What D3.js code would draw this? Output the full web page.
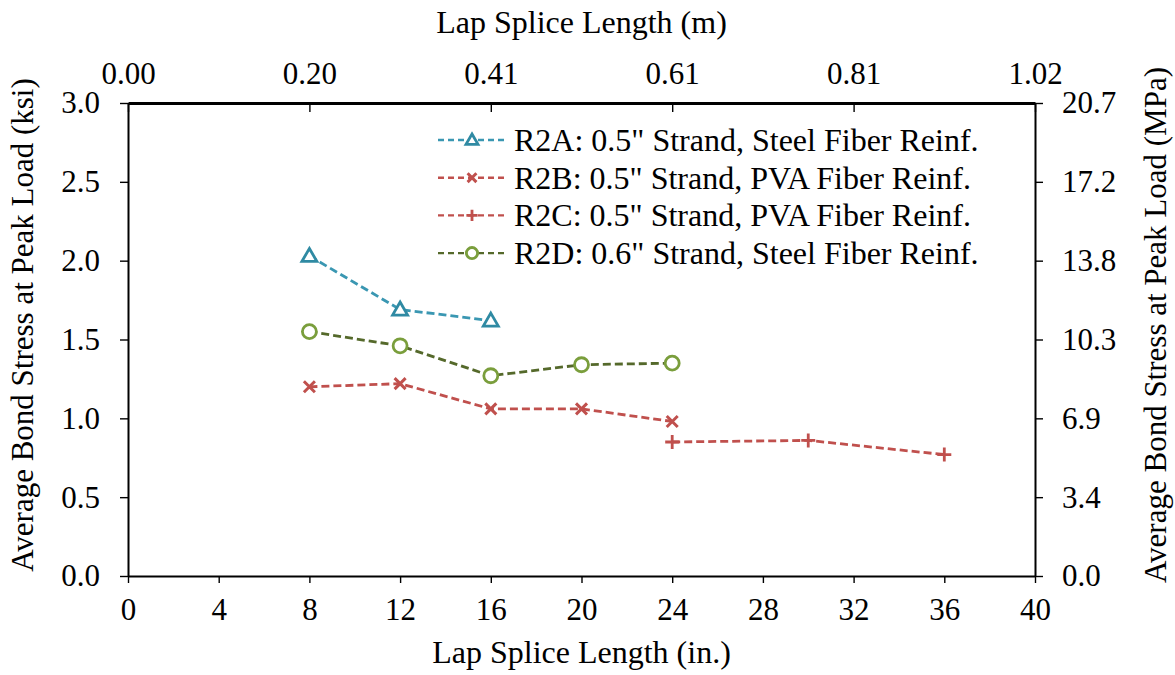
<!DOCTYPE html>
<html>
<head>
<meta charset="utf-8">
<script src="https://cdn.jsdelivr.net/npm/d3@7"></script>
<style>
  body { margin: 0; background: #fff; }
  svg text { font-family: "Liberation Serif", "Times New Roman", serif; fill: #000; }
</style>
</head>
<body>
<svg id="chart" width="1175" height="675"></svg>
<script>
// ---- data ----
const xTicksIn = [0, 4, 8, 12, 16, 20, 24, 28, 32, 36, 40];
const xTicksTopIn = [0, 8, 16, 24, 32, 40];
const xTickLabelsM = ["0.00", "0.20", "0.41", "0.61", "0.81", "1.02"];
const yTicksKsi = [0, 0.5, 1.0, 1.5, 2.0, 2.5, 3.0];
const yTickLabelsMPa = ["0.0", "3.4", "6.9", "10.3", "13.8", "17.2", "20.7"];

const r2aX = [8, 12, 16];
const r2aY = [2.03, 1.69, 1.62];
const r2bX = [8, 12, 16, 20, 24];
const r2bY = [1.20, 1.22, 1.06, 1.06, 0.98];
const r2cX = [24, 30, 36];
const r2cY = [0.85, 0.86, 0.77];
const r2dX = [8, 12, 16, 20, 24];
const r2dY = [1.55, 1.46, 1.27, 1.34, 1.35];

const seriesNames = [
  "R2A: 0.5\" Strand, Steel Fiber Reinf.",
  "R2B: 0.5\" Strand, PVA Fiber Reinf.",
  "R2C: 0.5\" Strand, PVA Fiber Reinf.",
  "R2D: 0.6\" Strand, Steel Fiber Reinf."
];

const series = [
  { name: seriesNames[0], xs: r2aX, ys: r2aY, line: "#3a97b2", mark: "#2f8aa3", shape: "tri" },
  { name: seriesNames[1], xs: r2bX, ys: r2bY, line: "#c0504d", mark: "#c0504d", shape: "x" },
  { name: seriesNames[2], xs: r2cX, ys: r2cY, line: "#c0504d", mark: "#c0504d", shape: "plus" },
  { name: seriesNames[3], xs: r2dX, ys: r2dY, line: "#55692b", mark: "#7a9e3c", shape: "circle" }
];

// ---- layout ----
const L = 128, R = 1035, T = 103, B = 576;
const svg = d3.select("#chart");
const x = d3.scaleLinear().domain([0, 40]).range([L, R]);
const y = d3.scaleLinear().domain([0, 3]).range([B, T]);

const FS = 31, FT = 32;

// axes
const gB = svg.append("g").attr("transform", `translate(0,${B})`)
  .call(d3.axisBottom(x).tickValues(xTicksIn).tickFormat(d3.format("d")).tickSizeInner(7).tickSizeOuter(0).tickPadding(15));
const gT = svg.append("g").attr("transform", `translate(0,${T})`)
  .call(d3.axisTop(x).tickValues(xTicksTopIn).tickFormat((d, i) => xTickLabelsM[i]).tickSizeInner(-9).tickSizeOuter(0).tickPadding(19));
const gL = svg.append("g").attr("transform", `translate(${L},0)`)
  .call(d3.axisLeft(y).tickValues(yTicksKsi).tickFormat(d3.format(".1f")).tickSizeInner(8).tickSizeOuter(0).tickPadding(20));
const gR = svg.append("g").attr("transform", `translate(${R},0)`)
  .call(d3.axisRight(y).tickValues(yTicksKsi).tickFormat((d, i) => yTickLabelsMPa[i]).tickSizeInner(8).tickSizeOuter(0).tickPadding(19));

[gB, gT, gL, gR].forEach(g => {
  g.attr("font-family", null).attr("font-size", null);
  g.selectAll("text").style("font-size", FS + "px").style("font-family", "'Liberation Serif', 'Times New Roman', serif");
  g.selectAll("line").attr("stroke", "#000").attr("stroke-width", 1.4);
  g.select(".domain").attr("stroke", "#000").attr("stroke-width", 2);
});
gT.select(".domain").attr("stroke-width", 3);

// axis titles
svg.append("text").attr("x", (L + R) / 2).attr("y", 663).attr("text-anchor", "middle")
  .style("font-size", FT + "px").text("Lap Splice Length (in.)");
svg.append("text").attr("x", (L + R) / 2).attr("y", 33).attr("text-anchor", "middle")
  .style("font-size", FT + "px").text("Lap Splice Length (m)");
const vMid = 325;
svg.append("text").attr("transform", `translate(33,${vMid}) rotate(-90)`).attr("text-anchor", "middle")
  .style("font-size", FS + "px").text("Average Bond Stress at Peak Load (ksi)");
svg.append("text").attr("transform", `translate(1166,${vMid}) rotate(-90)`).attr("text-anchor", "middle")
  .style("font-size", FS + "px").text("Average Bond Stress at Peak Load (MPa)");

// marker drawing
function drawMarker(g, shape, color, k) {
  k = k || 1;
  if (shape === "tri") {
    g.append("path").attr("d", `M0,${-7.5 * k} L${7.5 * k},${5.5 * k} L${-7.5 * k},${5.5 * k} Z`).attr("fill", "#fff").attr("stroke", color).attr("stroke-width", 2.8);
  } else if (shape === "x") {
    g.append("path").attr("d", `M${-5.5 * k},${-5.5 * k} L${5.5 * k},${5.5 * k} M${-5.5 * k},${5.5 * k} L${5.5 * k},${-5.5 * k}`).attr("stroke", color).attr("stroke-width", 3);
  } else if (shape === "plus") {
    g.append("path").attr("d", `M${-7 * k},0 L${7 * k},0 M0,${-7 * k} L0,${7 * k}`).attr("stroke", color).attr("stroke-width", 2.8);
  } else {
    g.append("circle").attr("r", 7 * k).attr("fill", "#fff").attr("stroke", color).attr("stroke-width", 2.8);
  }
}

const lineGen = d3.line().x(d => x(d[0])).y(d => y(d[1]));
series.forEach(s => {
  const pts = s.xs.map((v, i) => [v, s.ys[i]]);
  svg.append("path").datum(pts).attr("d", lineGen).attr("fill", "none")
    .attr("stroke", s.line).attr("stroke-width", 2.8).attr("stroke-dasharray", "8,4");
  pts.forEach(p => {
    const g = svg.append("g").attr("transform", `translate(${x(p[0])},${y(p[1])})`);
    drawMarker(g, s.shape, s.mark, 1);
  });
});

// legend
const legY0 = 140, legDy = 37.7, legX0 = 438, legX1 = 506;
series.forEach((s, i) => {
  const yy = legY0 + i * legDy;
  svg.append("line").attr("x1", legX0).attr("x2", legX1).attr("y1", yy).attr("y2", yy)
    .attr("stroke", s.line).attr("stroke-width", 2.4).attr("stroke-dasharray", "6,4");
  const g = svg.append("g").attr("transform", `translate(${(legX0 + legX1) / 2},${yy})`);
  drawMarker(g, s.shape, s.mark, 0.8);
  svg.append("text").attr("x", 514).attr("y", yy).attr("dy", "0.34em")
    .style("font-size", FT + "px").text(s.name);
});
</script>
</body>
</html>
